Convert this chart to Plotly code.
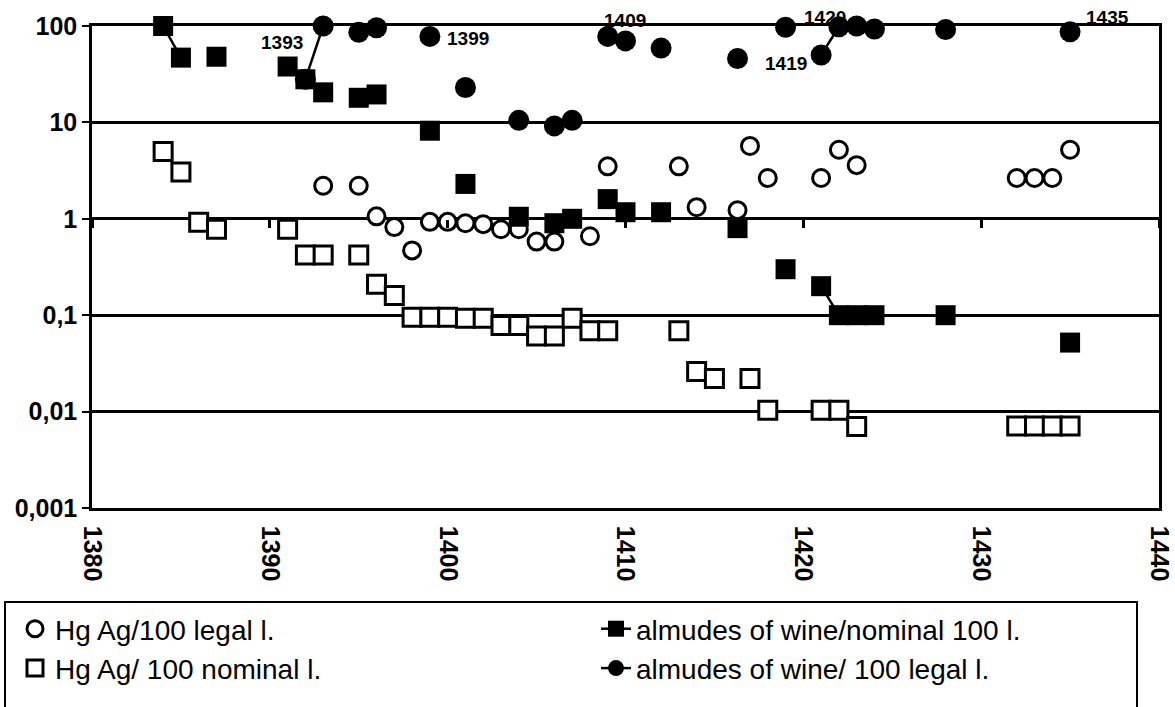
import math
import plotly.graph_objects as go

# ---------------- data ----------------
hg_legal_years = [1393, 1395, 1396, 1397, 1398, 1399, 1400, 1401, 1402, 1403, 1404, 1405, 1406,
                  1408, 1409, 1413, 1414, 1416.3, 1417, 1418, 1421, 1422, 1423, 1432, 1433, 1434, 1435]
hg_legal_vals = [2.2, 2.2, 1.06, 0.82, 0.47, 0.93, 0.93, 0.9, 0.88, 0.78, 0.78, 0.58, 0.58,
                 0.66, 3.5, 3.5, 1.32, 1.23, 5.7, 2.65, 2.65, 5.2, 3.6, 2.65, 2.65, 2.65, 5.2]

hg_nominal_years = [1384, 1385, 1386, 1387, 1391, 1392, 1393, 1395, 1396, 1397, 1398, 1399, 1400,
                    1401, 1402, 1403, 1404, 1405, 1406, 1407, 1408, 1409, 1413, 1414, 1415, 1417,
                    1418, 1421, 1422, 1423, 1432, 1433, 1434, 1435]
hg_nominal_vals = [5.0, 3.06, 0.92, 0.78, 0.78, 0.42, 0.42, 0.42, 0.21, 0.16, 0.095, 0.095, 0.095,
                   0.093, 0.093, 0.078, 0.078, 0.061, 0.061, 0.093, 0.069, 0.069, 0.069, 0.026, 0.022, 0.022,
                   0.0103, 0.0103, 0.0103, 0.0070, 0.0071, 0.0071, 0.0071, 0.0071]

wine_nominal_years = [1384, 1385, 1387, 1391, 1392, 1393, 1395, 1396, 1399, 1401, 1404, 1406, 1407,
                      1409, 1410, 1412, 1416.3, 1419, 1421, 1422, 1423, 1424, 1428, 1435]
wine_nominal_vals = [100, 47, 48, 38, 28, 20.5, 18, 19.5, 8.2, 2.3, 1.05, 0.9, 1.0,
                     1.6, 1.17, 1.17, 0.8, 0.30, 0.20, 0.10, 0.10, 0.10, 0.10, 0.052]

wine_legal_years = [1392, 1393, 1395, 1396, 1399, 1401, 1404, 1406, 1407, 1409, 1410, 1412,
                    1416.3, 1419, 1421, 1422, 1423, 1424, 1428, 1435]
wine_legal_vals = [28, 100, 86, 96, 78, 23, 10.5, 9.2, 10.5, 78, 70, 59,
                   46, 97, 50, 98, 100, 93, 92, 87]

label_texts = ["1393", "1399", "1409", "1420", "1419", "1435"]
label_years = [1393, 1399, 1409, 1422, 1421, 1435]

x_ticks = [1380, 1390, 1400, 1410, 1420, 1430, 1440]
y_tickvals = [0.001, 0.01, 0.1, 1, 10, 100]
y_ticktext = ["0,001", "0,01", "0,1", "1", "10", "100"]


def with_gaps(years, vals):
    """Insert None where consecutive observations are more than one year apart."""
    xs, ys = [], []
    prev = None
    for yr, v in zip(years, vals):
        if prev is not None and yr - prev > 1.01:
            xs.append(None)
            ys.append(None)
        xs.append(yr)
        ys.append(v)
        prev = yr
    return xs, ys


wn_x, wn_y = with_gaps(wine_nominal_years, wine_nominal_vals)
wl_x, wl_y = with_gaps(wine_legal_years, wine_legal_vals)

FONT = "Liberation Sans, Arial, Helvetica, sans-serif"

fig = go.Figure()

fig.add_trace(go.Scatter(
    x=hg_legal_years, y=hg_legal_vals, mode="markers", name="Hg Ag/100 legal l.",
    marker=dict(symbol="circle", size=17, color="white", line=dict(color="black", width=3)),
    legend="legend", cliponaxis=False))
fig.add_trace(go.Scatter(
    x=hg_nominal_years, y=hg_nominal_vals, mode="markers", name="Hg Ag/ 100 nominal l.",
    marker=dict(symbol="square", size=18, color="white", line=dict(color="black", width=3)),
    legend="legend", cliponaxis=False))
fig.add_trace(go.Scatter(
    x=wl_x, y=wl_y, mode="lines+markers", name="almudes of wine/ 100 legal l.",
    line=dict(color="black", width=2.5), connectgaps=False,
    marker=dict(symbol="circle", size=21, color="black"),
    legend="legend2", cliponaxis=False))
fig.add_trace(go.Scatter(
    x=wn_x, y=wn_y, mode="lines+markers", name="almudes of wine/nominal 100 l.",
    line=dict(color="black", width=2.5), connectgaps=False,
    marker=dict(symbol="square", size=20, color="black"),
    legend="legend2", cliponaxis=False))
# carrier for the secondary x axis that draws ticks along the y = 1 line
fig.add_trace(go.Scatter(x=x_ticks, y=[1] * len(x_ticks), xaxis="x2", mode="markers",
                         marker=dict(size=1, opacity=0), showlegend=False, hoverinfo="skip"))

# year labels next to selected points of the "legal" wine series
offsets = {"1393": ("right", -18, -16), "1399": ("left", 15, -2), "1409": ("center", 17, 16),
           "1420": ("center", -14, 9), "1419": ("right", -12, -8), "1435": ("center", 37, 14)}
for txt, yr in zip(label_texts, label_years):
    v = wine_legal_vals[wine_legal_years.index(yr)]
    anc, dx, dy = offsets[txt]
    fig.add_annotation(x=yr, y=math.log10(v), text=txt, showarrow=False, xanchor=anc,
                       yanchor="middle", xshift=dx, yshift=dy,
                       font=dict(family=FONT, size=19, color="black", weight="bold"))

# legend frame (extends past the bottom edge like the reference)
L, R, T, B = 92, 16, 26, 199
W, H = 1175, 707
pw, ph = W - L - R, H - T - B


def px_x(p):
    return (p - L) / pw


def px_y(p):
    return (H - B - p) / ph


fig.add_shape(type="rect", xref="paper", yref="paper", x0=px_x(5), x1=px_x(1137),
              y0=px_y(602), y1=px_y(730), line=dict(color="black", width=2))

fig.update_layout(
    width=W, height=H, margin=dict(l=L, r=R, t=T, b=B, pad=0),
    paper_bgcolor="white", plot_bgcolor="white",
    font=dict(family=FONT, color="black"),
    xaxis=dict(range=[1380, 1440], tickvals=x_ticks, ticks="", tickangle=90,
               ticklabelstandoff=10, automargin=False,
               tickfont=dict(family=FONT, size=25, color="black", weight="bold"),
               showline=True, linecolor="black", linewidth=2.5, mirror=True,
               showgrid=False, zeroline=False),
    xaxis2=dict(range=[1380, 1440], tickvals=x_ticks, overlaying="x", anchor="free",
                position=0.6, side="bottom", ticks="outside", ticklen=8, tickwidth=2.5,
                tickcolor="black", showticklabels=False, showline=False, showgrid=False,
                zeroline=False, automargin=False),
    yaxis=dict(type="log", range=[-3, 2], tickvals=y_tickvals, ticktext=y_ticktext,
               ticks="outside", ticklen=7, tickwidth=2, tickcolor="black", automargin=False,
               tickfont=dict(family=FONT, size=25, color="black", weight="bold"),
               showline=True, linecolor="black", linewidth=2.5, mirror=True,
               showgrid=True, gridcolor="black", gridwidth=2.5, zeroline=False),
    legend=dict(x=px_x(15), y=px_y(604), xanchor="left", yanchor="top",
                orientation="v", bgcolor="rgba(0,0,0,0)", borderwidth=0,
                font=dict(family=FONT, size=28, color="black"), tracegroupgap=0),
    legend2=dict(x=px_x(596), y=px_y(604), xanchor="left", yanchor="top",
                 orientation="v", bgcolor="rgba(0,0,0,0)", borderwidth=0, traceorder="reversed",
                 font=dict(family=FONT, size=28, color="black"), tracegroupgap=0),
    showlegend=True,
)

fig.write_html("out.html")
